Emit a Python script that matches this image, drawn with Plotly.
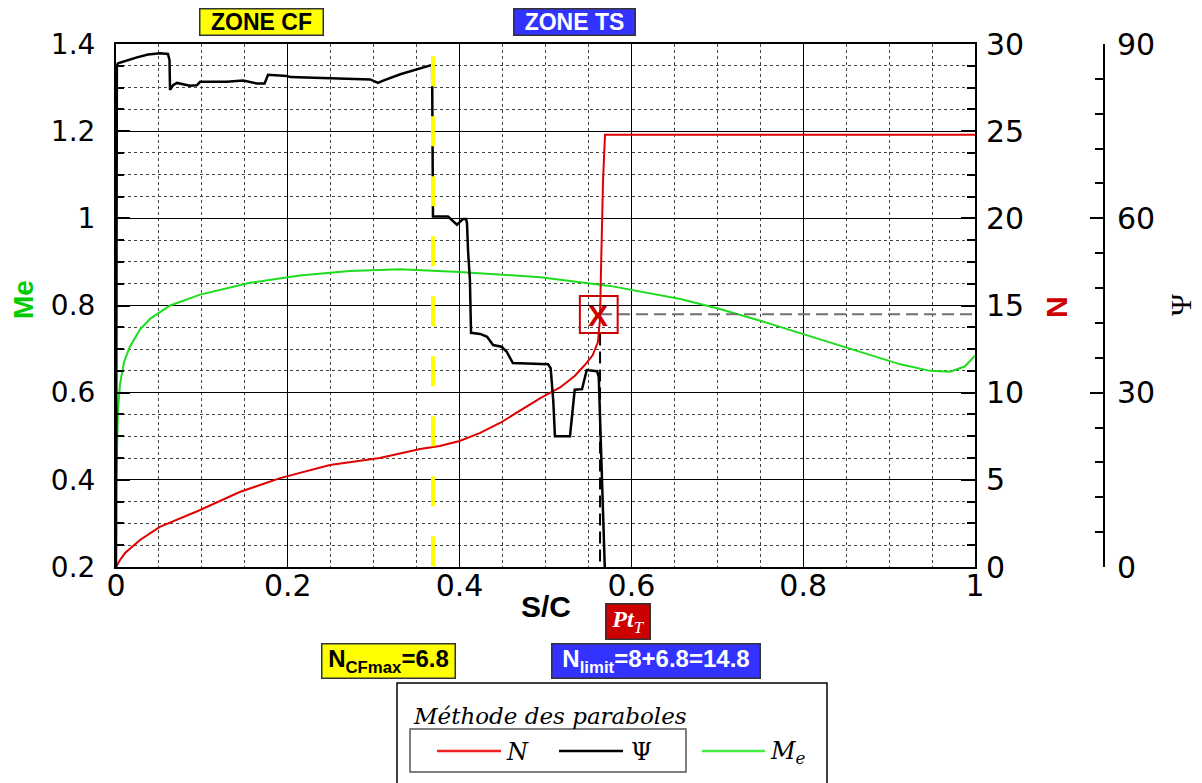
import plotly.graph_objects as go

# ---------------- data ----------------
# Me (Mach number at boundary-layer edge) vs S/C
me_s = [0.0, 0.0012, 0.0023, 0.0047, 0.0093, 0.016, 0.028, 0.040, 0.063, 0.098,
        0.156, 0.214, 0.272, 0.331, 0.400, 0.494, 0.575, 0.657, 0.703, 0.750,
        0.796, 0.854, 0.913, 0.948, 0.971, 0.988, 1.0]
me_val = [0.38, 0.50, 0.56, 0.62, 0.67, 0.705, 0.745, 0.77, 0.80, 0.825,
          0.852, 0.869, 0.879, 0.883, 0.877, 0.865, 0.845, 0.815, 0.792, 0.765,
          0.737, 0.700, 0.665, 0.650, 0.648, 0.660, 0.685]

# N factor vs S/C
n_s = [0.0, 0.0047, 0.0105, 0.028, 0.051, 0.098, 0.144, 0.191, 0.249, 0.307,
       0.354, 0.377, 0.400, 0.424, 0.447, 0.470, 0.494, 0.517, 0.534, 0.546,
       0.555, 0.561, 0.5634, 0.5646, 0.567, 0.5693, 1.0]
n_val = [0.0, 0.4, 0.8, 1.55, 2.3, 3.27, 4.3, 5.1, 5.85, 6.25,
         6.77, 6.94, 7.23, 7.69, 8.26, 8.95, 9.69, 10.3, 10.96, 11.6,
         12.16, 12.9, 14.2, 17.0, 22.2, 24.8, 24.8]

# Psi (wave direction, deg) vs S/C
psi_s = [0.0, 0.001, 0.0023, 0.0128, 0.0244, 0.0373, 0.0512, 0.0605, 0.0623, 0.0629,
         0.0664, 0.071, 0.078, 0.086, 0.094, 0.098, 0.129, 0.148, 0.164, 0.173,
         0.177, 0.199, 0.203, 0.264, 0.296, 0.305, 0.311, 0.331, 0.350, 0.363,
         0.368, 0.369, 0.3865, 0.397, 0.404, 0.4075, 0.4086, 0.4098, 0.412, 0.4133,
         0.424, 0.432, 0.439, 0.449, 0.455, 0.462, 0.503, 0.506, 0.509, 0.511,
         0.5285, 0.534, 0.5425, 0.548, 0.560, 0.562, 0.5646, 0.567, 0.569]
psi_val = [0.0, 86.2, 86.7, 87.2, 87.7, 88.2, 88.4, 88.3, 87.2, 82.1,
           82.9, 83.3, 83.1, 82.8, 82.9, 83.5, 83.5, 83.7, 83.2, 83.2,
           84.7, 84.5, 84.3, 84.1, 83.9, 83.3, 83.7, 84.8, 85.6, 86.2,
           86.4, 60.3, 60.3, 58.9, 59.9, 59.9, 59.2, 54.5, 49.4, 40.3,
           40.1, 39.6, 38.2, 37.9, 37.0, 35.1, 34.9, 34.2, 28.7, 22.5,
           22.5, 30.5, 30.6, 33.9, 33.7, 32.7, 20.1, 6.4, 0.0]

# markers / reference positions
S_CF = 0.369          # end of cross-flow zone (yellow dashed)
S_TR = 0.5635         # transition point Pt_T
N_LIMIT_LINE = 14.5   # dashed horizontal level (N)
CF_LINE_TOP = 87.9    # top of yellow dashed line (Psi scale)

x_ticks = [0, 0.2, 0.4, 0.6, 0.8, 1.0]
x_ticklabels = ["0", "0.2", "0.4", "0.6", "0.8", "1"]
me_ticks = [0.2, 0.4, 0.6, 0.8, 1.0, 1.2, 1.4]
me_ticklabels = ["0.2", "0.4", "0.6", "0.8", "1", "1.2", "1.4"]

# ---------------- layout helpers ----------------
W, H = 1202, 783
OFF = 8                      # page body margin
PLOT_L, PLOT_R, PLOT_T, PLOT_B = 116, 975, 44, 567   # page pixels
PSI_X = 1104
L = PLOT_L - OFF
T = PLOT_T - OFF
R = W - (PSI_X - OFF)
B = H - (PLOT_B - OFF)
PW, PH = W - L - R, H - T - B


def px(x):
    return (x - OFF - L) / PW


def py(y):
    return (H - B - (y - OFF)) / PH


RED = "#e00000"
GREEN = "#1edc1e"
YELLOW = "#ffff00"
BLUE = "#3333ff"
TICKFONT = dict(family="DejaVu Sans", size=30, color="black")

fig = go.Figure()
fig.add_trace(go.Scatter(x=me_s, y=me_val, mode="lines", yaxis="y",
                         line=dict(color=GREEN, width=2), showlegend=False,
                         name="Me"))
fig.add_trace(go.Scatter(x=n_s, y=n_val, mode="lines", yaxis="y2",
                         line=dict(color=RED, width=2), showlegend=False,
                         name="N"))
fig.add_trace(go.Scatter(x=psi_s, y=psi_val, mode="lines", yaxis="y3",
                         line=dict(color="black", width=2.5), showlegend=False,
                         name="Ψ"))
# yellow dashed line (end of CF zone)
fig.add_trace(go.Scatter(x=[S_CF, S_CF], y=[CF_LINE_TOP, 0], mode="lines",
                         yaxis="y3", line=dict(color=YELLOW, width=4,
                                               dash="30px,30px"),
                         showlegend=False, hoverinfo="skip"))
# dashed lines at the transition point
fig.add_trace(go.Scatter(x=[S_TR, 1.0], y=[N_LIMIT_LINE, N_LIMIT_LINE],
                         mode="lines", yaxis="y2",
                         line=dict(color="#707070", width=2, dash="12px,6px"),
                         showlegend=False, hoverinfo="skip"))
fig.add_trace(go.Scatter(x=[S_TR, S_TR], y=[13.4, 0], mode="lines",
                         yaxis="y2",
                         line=dict(color="black", width=2, dash="12px,6px"),
                         showlegend=False, hoverinfo="skip"))

shapes = []
annotations = []

# X marker box (data coords on N axis)
shapes.append(dict(type="rect", xref="x", yref="y2",
                   x0=0.540, x1=0.584, y0=13.42, y1=15.54,
                   line=dict(color="#d00000", width=2)))
annotations.append(dict(xref="x", yref="y2", x=0.561, y=14.45, text="<b>X</b>",
                        showarrow=False, xanchor="center", yanchor="middle",
                        font=dict(family="Liberation Sans", size=30,
                                  color="#cc0000")))


def box(cx, cy, w, h, text, bg, fg, size=24, family="Liberation Sans"):
    annotations.append(dict(
        xref="paper", yref="paper", x=px(cx), y=py(cy), text=text,
        showarrow=False, xanchor="center", yanchor="middle",
        width=w, height=h, bgcolor=bg, bordercolor="#333333",
        borderwidth=1.5, borderpad=0, align="center", valign="middle",
        font=dict(family=family, size=size, color=fg)))


box(261, 22, 122, 25, "<b>ZONE CF</b>", YELLOW, "black", 23)
box(574, 22, 120, 25, "<b>ZONE TS</b>", BLUE, "white", 23)
box(628, 621, 43, 34, "<i><b>Pt</b><sub>T</sub></i>", "#cc0000", "white",
    24, "Liberation Serif")
box(388, 661, 132, 33, "<b>N<sub>CFmax</sub>=6.8</b>", YELLOW, "black", 24)
box(656, 661, 207, 33, "<b>N<sub>limit</sub>=8+6.8=14.8</b>", BLUE, "white", 24)

# axis titles
annotations.append(dict(xref="paper", yref="paper", x=px(546), y=py(606),
                        text="<b>S/C</b>", showarrow=False,
                        xanchor="center", yanchor="middle",
                        font=dict(family="Liberation Sans", size=30,
                                  color="black")))
annotations.append(dict(xref="paper", yref="paper", x=px(23), y=py(300),
                        text="<b>Me</b>", showarrow=False, textangle=-90,
                        xanchor="center", yanchor="middle",
                        font=dict(family="Liberation Sans", size=28,
                                  color="#00cc00")))
annotations.append(dict(xref="paper", yref="paper", x=px(1056), y=py(307),
                        text="<b>N</b>", showarrow=False, textangle=-90,
                        xanchor="center", yanchor="middle",
                        font=dict(family="Liberation Sans", size=30,
                                  color="#cc0000")))
annotations.append(dict(xref="paper", yref="paper", x=px(1180), y=py(305),
                        text="Ψ", showarrow=False, textangle=-90,
                        xanchor="center", yanchor="middle",
                        font=dict(family="Liberation Serif", size=30,
                                  color="black")))

# manual legend
shapes.append(dict(type="rect", xref="paper", yref="paper",
                   x0=px(397), x1=px(827), y0=py(800), y1=py(683),
                   line=dict(color="black", width=1.5), fillcolor="white",
                   layer="above"))
shapes.append(dict(type="rect", xref="paper", yref="paper",
                   x0=px(410), x1=px(686), y0=py(772), y1=py(729),
                   line=dict(color="#555555", width=1.5), layer="above"))
annotations.append(dict(xref="paper", yref="paper", x=px(411), y=py(716),
                        text="<i>Méthode des paraboles</i>", showarrow=False,
                        xanchor="left", yanchor="middle",
                        font=dict(family="DejaVu Serif", size=23,
                                  color="black")))
for (x0, x1, col, lab, lx) in [(437, 501, "#ee2222", "<i>N</i>", 517),
                               (559, 623, "black", "Ψ", 641),
                               (702, 765, "#44ee44", "<i>M<sub>e</sub></i>", 788)]:
    shapes.append(dict(type="line", xref="paper", yref="paper",
                       x0=px(x0), x1=px(x1), y0=py(751), y1=py(751),
                       line=dict(color=col, width=2.5), layer="above"))
    annotations.append(dict(xref="paper", yref="paper", x=px(lx), y=py(752),
                            text=lab, showarrow=False, xanchor="center",
                            yanchor="middle",
                            font=dict(family="DejaVu Serif", size=24,
                                      color="black")))

fig.update_layout(
    width=W, height=H,
    margin=dict(l=L, r=R, t=T, b=B, pad=0),
    paper_bgcolor="white", plot_bgcolor="white",
    showlegend=False,
    xaxis=dict(domain=[0, (PLOT_R - PLOT_L) / PW], range=[0, 1],
               tickvals=x_ticks, ticktext=x_ticklabels, tickfont=TICKFONT,
               showline=True, linecolor="black", linewidth=2, mirror=True,
               showgrid=True, gridcolor="black", gridwidth=1,
               zeroline=False, ticks="", ticklabelstandoff=-9,
               minor=dict(dtick=0.05, showgrid=True, gridcolor="#444444",
                          griddash="dot", gridwidth=1)),
    yaxis=dict(range=[0.2, 1.4], tickvals=me_ticks, ticktext=me_ticklabels,
               tickfont=dict(family="DejaVu Sans", size=28, color="black"),
               showline=True, linecolor="black", linewidth=2, mirror=True,
               showgrid=True, gridcolor="black", gridwidth=1, zeroline=False,
               ticks="inside", ticklen=14, tickwidth=1.5, tickcolor="black",
               ticklabelstandoff=13,
               minor=dict(dtick=0.05, tick0=0.2, showgrid=True,
                          gridcolor="#444444", griddash="dot", gridwidth=1,
                          ticks="inside", ticklen=8, tickcolor="black")),
    yaxis2=dict(range=[0, 30], dtick=5, tick0=0, overlaying="y", side="right",
                anchor="x", tickfont=TICKFONT, showgrid=False, zeroline=False,
                showline=False, ticks="inside", ticklen=14, tickwidth=1.5,
                tickcolor="black", ticklabelstandoff=10,
                minor=dict(dtick=1.25, tick0=0, ticks="inside", ticklen=8,
                           tickcolor="black", showgrid=False)),
    yaxis3=dict(range=[0, 90], dtick=30, tick0=0, overlaying="y", side="right",
                anchor="free", position=1.0, tickfont=TICKFONT,
                showgrid=False, zeroline=False, showline=True,
                linecolor="black", linewidth=2, ticks="inside", ticklen=13,
                tickwidth=2, tickcolor="black", ticklabelstandoff=6,
                minor=dict(dtick=6, tick0=0, ticks="inside", ticklen=8,
                           tickcolor="black", showgrid=False)),
    shapes=shapes,
    annotations=annotations,
)

fig.write_html("out.html")
